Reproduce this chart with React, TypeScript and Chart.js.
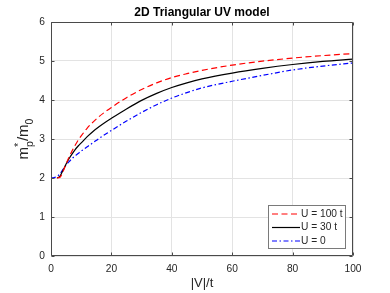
import { useEffect, useRef } from 'react';
import { Chart, registerables } from 'chart.js';

Chart.register(...registerables);

const FONT = '"Liberation Sans", Arial, Helvetica, sans-serif';

const chartTitle = '2D Triangular UV model';
const xAxisTitle = '|V|/t';
const xTicks = [0, 20, 40, 60, 80, 100];
const yTicks = [0, 1, 2, 3, 4, 5, 6];

const xValues = [0, 1, 2, 3, 4, 5, 6, 7, 8, 9, 10, 12, 14, 16, 18, 20, 25, 30, 35, 40, 45, 50, 60, 70, 80, 90, 100];
const u100Values = [null, null, 2.0, 2.02, 2.17, 2.36, 2.54, 2.7, 2.84, 2.97, 3.08, 3.28, 3.44, 3.58, 3.7, 3.81, 4.06, 4.27, 4.44, 4.575, 4.675, 4.76, 4.895, 4.996, 5.075, 5.138, 5.19];
const u30Values = [null, null, 2.0, 2.05, 2.2, 2.36, 2.5, 2.62, 2.73, 2.82, 2.9, 3.06, 3.2, 3.32, 3.43, 3.53, 3.77, 3.99, 4.17, 4.32, 4.44, 4.54, 4.69, 4.81, 4.91, 4.99, 5.05];
const u0Values = [2.0, 2.01, 2.04, 2.11, 2.22, 2.33, 2.42, 2.5, 2.57, 2.63, 2.69, 2.8, 2.91, 3.02, 3.12, 3.22, 3.46, 3.68, 3.88, 4.05, 4.19, 4.31, 4.48, 4.63, 4.77, 4.87, 4.95];
const seriesLabels = ['U = 100 t', 'U = 30 t', 'U = 0'];

const AXIS_COLOR = '#4a4a4a';
const TEXT_COLOR = '#262626';

const decorPlugin = {
  id: 'matlabDecor',
  afterDraw(chart: any) {
    const ctx = chart.ctx as CanvasRenderingContext2D;
    const { left, right, top, bottom } = chart.chartArea;
    const xs = chart.scales.x;
    const ys = chart.scales.y;
    ctx.save();
    // box
    const L = Math.round(left) + 0.5;
    const R = Math.round(right) - 0.5;
    const T = Math.round(top) + 0.5;
    const B = Math.round(bottom) - 0.5;
    ctx.strokeStyle = AXIS_COLOR;
    ctx.lineWidth = 1;
    ctx.setLineDash([]);
    ctx.beginPath();
    ctx.rect(L, T, R - L, B - T);
    ctx.stroke();
    // inward ticks
    const tl = 3;
    ctx.beginPath();
    xTicks.forEach((v) => {
      const px = Math.round(xs.getPixelForValue(v)) + 0.5;
      ctx.moveTo(px, B);
      ctx.lineTo(px, B - tl);
      ctx.moveTo(px, T);
      ctx.lineTo(px, T + tl);
    });
    yTicks.forEach((v) => {
      const py = Math.round(ys.getPixelForValue(v)) + 0.5;
      ctx.moveTo(L, py);
      ctx.lineTo(L + tl, py);
      ctx.moveTo(R, py);
      ctx.lineTo(R - tl, py);
    });
    ctx.stroke();

    // title
    ctx.fillStyle = '#000';
    ctx.font = `bold 12px ${FONT}`;
    ctx.textAlign = 'center';
    ctx.textBaseline = 'middle';
    ctx.fillText(chartTitle, (left + right) / 2, 13);

    // x title
    ctx.fillStyle = TEXT_COLOR;
    ctx.font = `13px ${FONT}`;
    ctx.fillText(xAxisTitle, (left + right) / 2, 283);

    // y title: m*_p / m_0
    ctx.save();
    ctx.translate(28, (top + bottom) / 2);
    ctx.rotate(-Math.PI / 2);
    ctx.textAlign = 'left';
    ctx.textBaseline = 'alphabetic';
    const big = `15px ${FONT}`;
    const small = `10.5px ${FONT}`;
    ctx.font = big;
    const wM = ctx.measureText('m').width;
    const wSlashM = ctx.measureText('/m').width;
    ctx.font = small;
    const wStar = ctx.measureText('*').width;
    const wP = ctx.measureText('p').width;
    const w0 = ctx.measureText('0').width;
    const total = wM + Math.max(wStar, wP) + wSlashM + w0;
    let x = -total / 2;
    ctx.font = big;
    ctx.fillText('m', x, 0);
    x += wM;
    ctx.font = small;
    ctx.fillText('*', x, -6);
    ctx.fillText('p', x, 4.5);
    x += Math.max(wStar, wP);
    ctx.font = big;
    ctx.fillText('/m', x, 0);
    x += wSlashM;
    ctx.font = small;
    ctx.fillText('0', x, 4.5);
    ctx.restore();

    // legend
    const lx = 268.5;
    const ly = 205.5;
    const lw = 77;
    const lh = 43;
    ctx.fillStyle = '#ffffff';
    ctx.fillRect(lx, ly, lw, lh);
    ctx.strokeStyle = '#7a7a7a';
    ctx.lineWidth = 1;
    ctx.setLineDash([]);
    ctx.strokeRect(lx, ly, lw, lh);
    ctx.font = `10.2px ${FONT}`;
    ctx.textAlign = 'left';
    ctx.textBaseline = 'middle';
    chart.data.datasets.forEach((ds: any, i: number) => {
      const y = 214 + i * 13.5;
      ctx.strokeStyle = ds.borderColor;
      ctx.lineWidth = ds.borderWidth;
      ctx.setLineDash(ds.borderDash || []);
      ctx.beginPath();
      ctx.moveTo(272, y);
      ctx.lineTo(300, y);
      ctx.stroke();
      ctx.setLineDash([]);
      ctx.fillStyle = TEXT_COLOR;
      ctx.fillText(ds.label, 301, y);
    });
    ctx.restore();
  },
};

export default function App() {
  const ref = useRef<HTMLCanvasElement | null>(null);
  useEffect(() => {
    document.body.style.margin = '0';
    const canvas = ref.current;
    if (!canvas) return;
    const mk = (ys: (number | null)[]) => xValues.map((x, i) => ({ x, y: ys[i] }));
    const chart = new Chart(canvas, {
      type: 'line',
      data: {
        datasets: [
          {
            label: seriesLabels[0],
            data: mk(u100Values),
            borderColor: '#ff0000',
            borderWidth: 1.2,
            borderDash: [6, 3.5],
            pointRadius: 0,
            cubicInterpolationMode: 'monotone',
            fill: false,
          },
          {
            label: seriesLabels[1],
            data: mk(u30Values),
            borderColor: '#000000',
            borderWidth: 1.2,
            pointRadius: 0,
            cubicInterpolationMode: 'monotone',
            fill: false,
          },
          {
            label: seriesLabels[2],
            data: mk(u0Values),
            borderColor: '#0000ff',
            borderWidth: 1.2,
            borderDash: [5, 2.5, 1.5, 2.5],
            pointRadius: 0,
            cubicInterpolationMode: 'monotone',
            fill: false,
          },
        ] as any,
      },
      options: {
        animation: false,
        responsive: false,
        layout: { padding: { top: 22, right: 37, left: 0, bottom: 0 } },
        plugins: {
          legend: { display: false },
          title: { display: false },
          tooltip: { enabled: false },
        },
        scales: {
          x: {
            type: 'linear',
            min: 0,
            max: 100,
            afterBuildTicks: (s: any) => {
              s.ticks = xTicks.map((v) => ({ value: v }));
            },
            afterFit: (s: any) => {
              s.height = 37;
            },
            grid: { color: '#e3e3e3', drawTicks: false },
            border: { display: false },
            ticks: { padding: 7, color: TEXT_COLOR, font: { size: 10.2, family: FONT }, maxRotation: 0 },
          },
          y: {
            type: 'linear',
            min: 0,
            max: 6,
            afterBuildTicks: (s: any) => {
              s.ticks = yTicks.map((v) => ({ value: v }));
            },
            afterFit: (s: any) => {
              s.width = 51;
            },
            grid: { color: '#e3e3e3', drawTicks: false },
            border: { display: false },
            ticks: { padding: 6, color: TEXT_COLOR, font: { size: 10.2, family: FONT } },
          },
        },
      } as any,
      plugins: [decorPlugin],
    });
    return () => chart.destroy();
  }, []);
  return (
    <div style={{ width: 390, height: 293 }}>
      <canvas ref={ref} width={390} height={293} style={{ display: 'block' }} />
    </div>
  );
}
